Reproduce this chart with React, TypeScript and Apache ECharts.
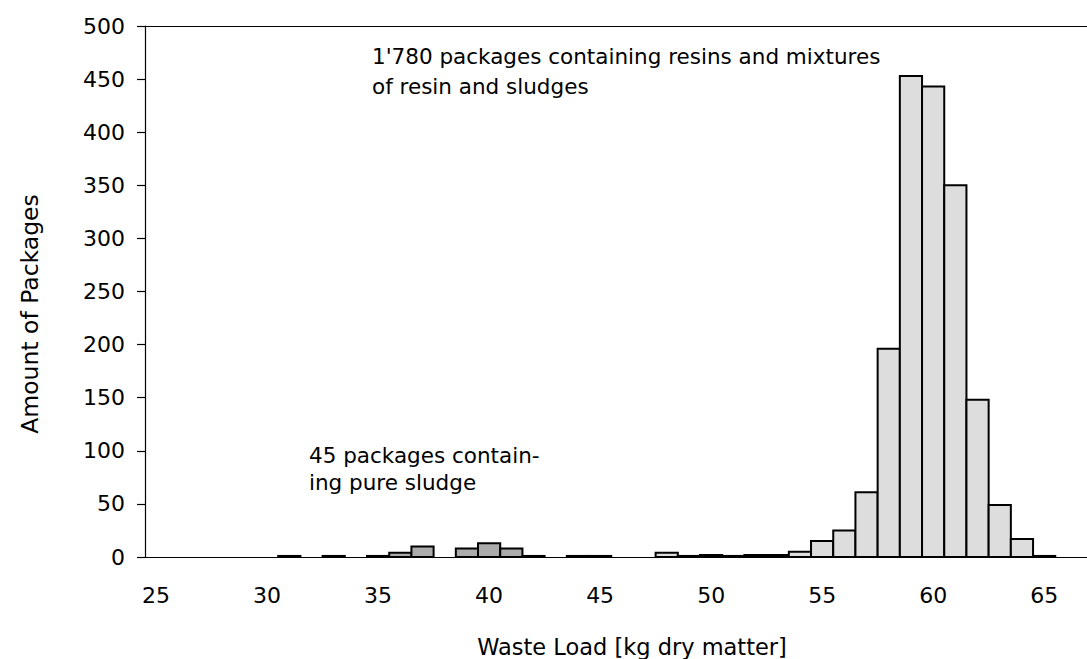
import React, { useEffect, useRef } from "react";
import * as echarts from "echarts";

// Waste load (kg dry matter) bins and package counts
const sludgeLoads = [31, 33, 35, 36, 37, 39, 40, 41, 42];
const sludgeCounts = [1, 1, 1, 4, 10, 8, 13, 8, 1];
const resinLoads = [44, 45, 48, 49, 50, 51, 52, 53, 54, 55, 56, 57, 58, 59, 60, 61, 62, 63, 64, 65];
const resinCounts = [1, 1, 4, 1, 2, 1, 2, 2, 5, 15, 25, 61, 196, 453, 443, 350, 148, 49, 17, 1];
const xTickLabels = [25, 30, 35, 40, 45, 50, 55, 60, 65];
const yTitle = "Amount of Packages";
const xTitle = "Waste Load [kg dry matter]";
const resinNote = ["1'780 packages containing resins and mixtures", "of resin and sludges"];
const sludgeNote = ["45 packages contain-", "ing pure sludge"];

const FONT = "DejaVu Sans";

function makeRender(fill: string) {
  return (params: any, api: any) => {
    const x = api.value(0);
    const y = api.value(1);
    const p0 = api.coord([x - 0.5, y]);
    const p1 = api.coord([x + 0.5, 0]);
    return {
      type: "rect",
      shape: { x: p0[0], y: p0[1], width: p1[0] - p0[0], height: p1[1] - p0[1] },
      style: { fill, stroke: "#000", lineWidth: 2 },
    };
  };
}

export default function App() {
  const ref = useRef<HTMLDivElement>(null);
  useEffect(() => {
    document.body.style.margin = "0";
    const chart = echarts.init(ref.current!, null, { renderer: "svg" });
    const textStyle = (text: string, size: number, align: string) => ({
      text,
      fill: "#000",
      font: `${size}px '${FONT}'`,
      textAlign: align,
      textVerticalAlign: "middle",
    });
    chart.setOption({
      animation: false,
      grid: { left: 145, right: 0, top: 26, bottom: 102 },
      xAxis: [
        {
          type: "value",
          min: 24.5,
          max: 66.93,
          splitLine: { show: false },
          axisTick: { show: false },
          axisLine: { show: true, onZero: false, lineStyle: { color: "#000", width: 1.2 } },
          axisLabel: {
            customValues: xTickLabels,
            color: "#000",
            fontFamily: FONT,
            fontSize: 22,
            margin: 27,
          },
        },
        {
          type: "value",
          position: "top",
          min: 24.5,
          max: 66.93,
          splitLine: { show: false },
          axisTick: { show: false },
          axisLabel: { show: false },
          axisLine: { show: true, onZero: false, lineStyle: { color: "#000", width: 1.2 } },
        },
      ],
      yAxis: {
        type: "value",
        min: 0,
        max: 500,
        interval: 50,
        splitLine: { show: false },
        axisLine: { show: true, lineStyle: { color: "#000", width: 1.2 } },
        axisTick: { show: true, length: 8, lineStyle: { color: "#000", width: 1.2 } },
        axisLabel: { color: "#000", fontFamily: FONT, fontSize: 22, margin: 20 },
      },
      series: [
        {
          type: "custom",
          name: "sludge",
          renderItem: makeRender("#ababab"),
          data: sludgeLoads.map((x, i) => [x, sludgeCounts[i]]),
        },
        {
          type: "custom",
          name: "resin",
          renderItem: makeRender("#dddddd"),
          data: resinLoads.map((x, i) => [x, resinCounts[i]]),
        },
      ],
      graphic: [
        { type: "text", x: 30, y: 314, rotation: Math.PI / 2, style: textStyle(yTitle, 23.5, "center") },
        { type: "text", x: 632, y: 647, style: textStyle(xTitle, 22.5, "center") },
        { type: "text", x: 372, y: 56, style: textStyle(resinNote[0], 21.5, "left") },
        { type: "text", x: 372, y: 86, style: textStyle(resinNote[1], 21.5, "left") },
        { type: "text", x: 309, y: 455, style: textStyle(sludgeNote[0], 21.5, "left") },
        { type: "text", x: 309, y: 482, style: textStyle(sludgeNote[1], 21.5, "left") },
      ],
    });
    return () => chart.dispose();
  }, []);
  return <div ref={ref} style={{ width: 1087, height: 659 }} />;
}
